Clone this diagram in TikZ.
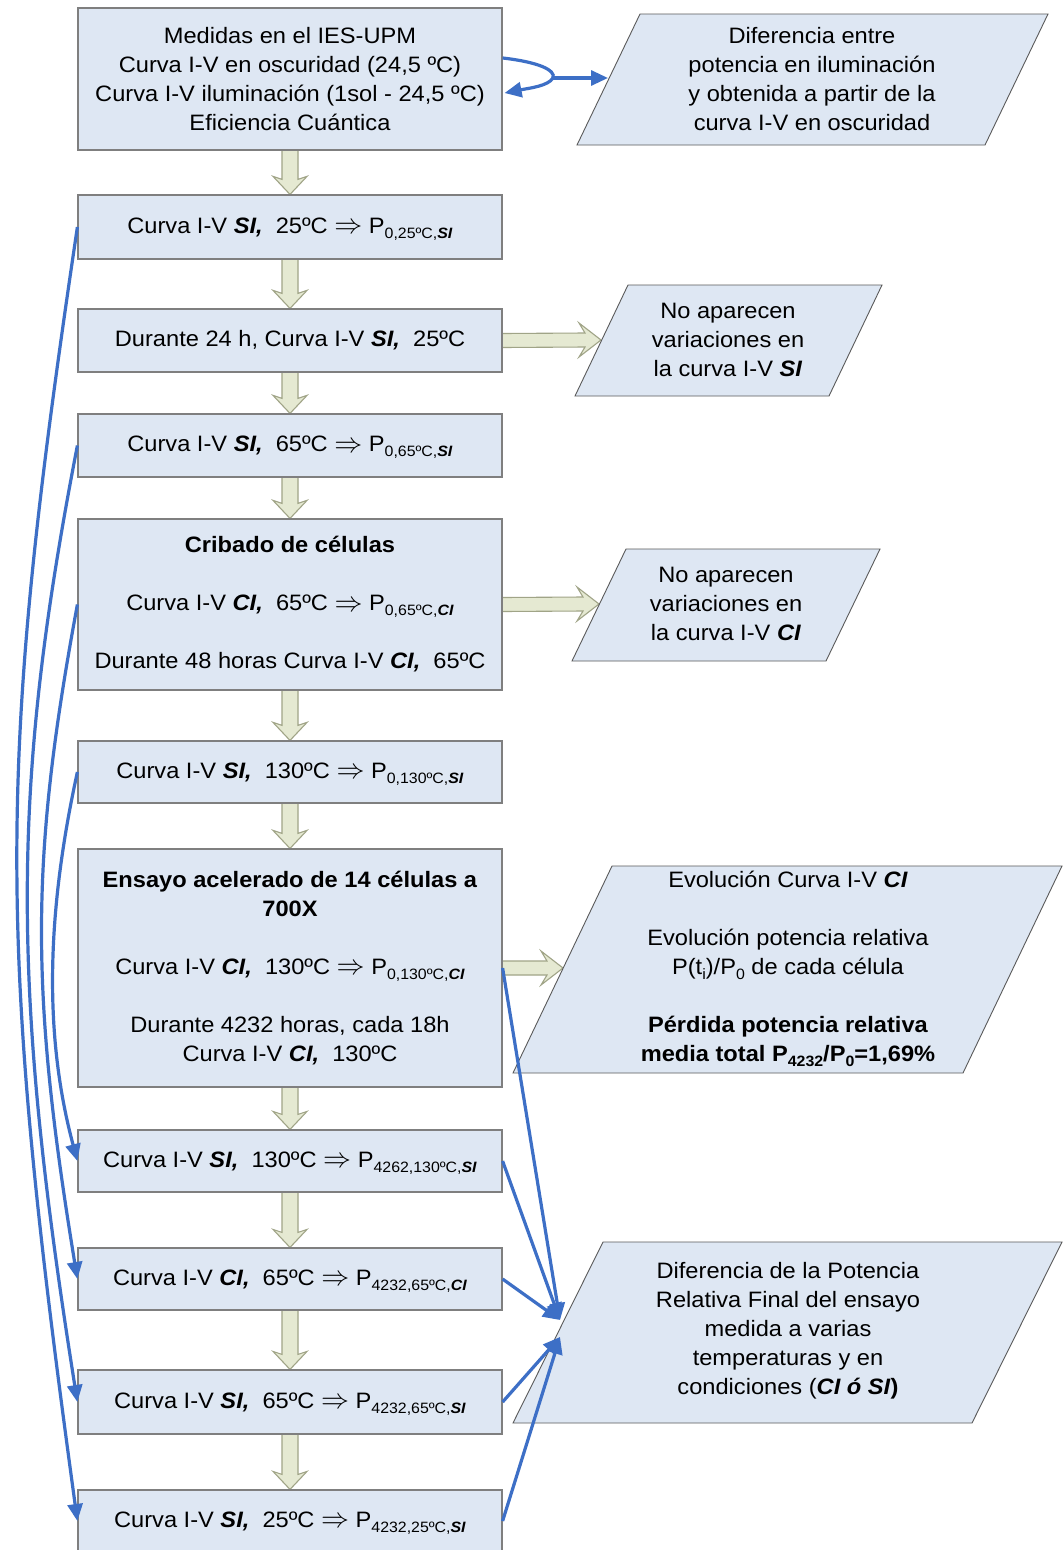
\documentclass[tikz,border=0pt]{standalone}
\usepackage{graphicx}
\usepackage{fontspec}
\setmainfont{Liberation Sans}[FakeStretch=1.06]
\usetikzlibrary{calc,arrows.meta}

\definecolor{boxfill}{HTML}{DEE7F3}
\definecolor{boxline}{HTML}{7F7F7F}
\definecolor{parline}{HTML}{5A5A5A}
\definecolor{blkfill}{HTML}{E5E9D2}
\definecolor{blkline}{HTML}{A0A487}
\definecolor{flowblue}{HTML}{3D6FC6}

\newcommand\bfit[1]{\textbf{\textit{#1}}}
\newcommand\psub[1]{\raisebox{-5pt}[0pt][0pt]{\fontsize{15}{15}\selectfont #1}}
\newcommand\yields{\ \raisebox{-0.5pt}{\scalebox{1.35}{$\Rightarrow$}}\ }

% hollow block arrow pointing down, from the bottom of #1 to the top of #2
\newcommand\blockdown[2]{%
  \draw[blockarrow] ($(#1.south)+(-8,0)$) -- ($(#2.north)+(-8,-15)$)
    -- ($(#2.north)+(-17,-18)$) -- (#2.north) -- ($(#2.north)+(17,-18)$)
    -- ($(#2.north)+(8,-15)$) -- ($(#1.south)+(8,0)$);}
% hollow block arrow pointing right, from the right side of #1 to point #2
\newcommand\blockright[2]{%
  \draw[blockarrow] ($(#1.east)+(0,-7)$) -- ($(#2)+(-16,-7)$)
    -- ($(#2)+(-22,-17)$) -- (#2) -- ($(#2)+(-22,17)$)
    -- ($(#2)+(-16,7)$) -- ($(#1.east)+(0,7)$);}

\pgfdeclarelayer{bg}
\pgfsetlayers{bg,main}

\begin{document}
\begin{tikzpicture}[x=1pt,y=-1pt,
  stepbox/.style={draw=boxline, fill=boxfill, line width=1.2pt,
    minimum width=424pt, inner sep=0pt, align=center,
    font=\fontsize{22.3}{29}\selectfont},
  para/.style={draw=parline, fill=boxfill, line width=0.9pt},
  ptext/.style={align=center, inner sep=0pt, font=\fontsize{22.3}{29}\selectfont},
  blockarrow/.style={draw=blkline, fill=blkfill, line width=1.1pt, line join=miter},
  bluearrow/.style={draw=flowblue, line width=3.2pt,
    -{Triangle[length=17pt,width=15pt]}},
  blueline/.style={draw=flowblue, line width=3.2pt}]

\useasboundingbox (0,0) rectangle (1063,1550);
\begin{pgfonlayer}{bg}
\fill[white] (0,0) rectangle (1063,1550);
\end{pgfonlayer}

% ---- main column of steps ----
\node[stepbox, minimum height=142pt] (b1) at (290,79)
  {Medidas en el IES-UPM\\Curva I-V en oscuridad (24,5 ºC)\\
   Curva I-V iluminación (1sol - 24,5 ºC)\\Eficiencia Cuántica};
\node[stepbox, minimum height=64pt] (b2) at (290,227)
  {Curva I-V \bfit{SI,}\ \ 25ºC\yields P\psub{0,25ºC,\bfit{SI}}};
\node[stepbox, minimum height=63pt] (b3) at (290,340.5)
  {Durante 24 h, Curva I-V \bfit{SI,}\ \ 25ºC};
\node[stepbox, minimum height=63pt] (b4) at (290,445.5)
  {Curva I-V \bfit{SI,}\ \ 65ºC\yields P\psub{0,65ºC,\bfit{SI}}};
\node[stepbox, minimum height=171pt] (b5) at (290,604.5)
  {\textbf{Cribado de células}\\~\\
   Curva I-V \bfit{CI,}\ \ 65ºC\yields P\psub{0,65ºC,\bfit{CI}}\\~\\
   Durante 48 horas Curva I-V \bfit{CI,}\ \ 65ºC};
\node[stepbox, minimum height=62pt] (b6) at (290,772)
  {Curva I-V \bfit{SI,}\ \ 130ºC\yields P\psub{0,130ºC,\bfit{SI}}};
\node[stepbox, minimum height=238pt] (b7) at (290,968)
  {\textbf{Ensayo acelerado de 14 células a}\\\textbf{700X}\\~\\
   Curva I-V \bfit{CI,}\ \ 130ºC\yields P\psub{0,130ºC,\bfit{CI}}\\~\\
   Durante 4232 horas, cada 18h\\Curva I-V \bfit{CI,}\ \ 130ºC};
\node[stepbox, minimum height=62pt] (b8) at (290,1161)
  {Curva I-V \bfit{SI,}\ \ 130ºC\yields P\psub{4262,130ºC,\bfit{SI}}};
\node[stepbox, minimum height=62pt] (b9) at (290,1279)
  {Curva I-V \bfit{CI,}\ \ 65ºC\yields P\psub{4232,65ºC,\bfit{CI}}};
\node[stepbox, minimum height=64pt] (b10) at (290,1402)
  {Curva I-V \bfit{SI,}\ \ 65ºC\yields P\psub{4232,65ºC,\bfit{SI}}};
\node[stepbox, minimum height=62pt] (b11) at (290,1521)
  {Curva I-V \bfit{SI,}\ \ 25ºC\yields P\psub{4232,25ºC,\bfit{SI}}};

% ---- result parallelograms ----
\draw[para] (640,14) -- (1048,14) -- (985,145) -- (577,145) -- cycle;
\node[ptext] (p1) at (812,79)
  {Diferencia entre\\potencia en iluminación\\y obtenida a partir de la\\curva I-V en oscuridad};
\draw[para] (628,285) -- (882,285) -- (829,396) -- (575,396) -- cycle;
\node[ptext] (p2) at (728,340)
  {No aparecen\\variaciones en\\la curva I-V \bfit{SI}};
\draw[para] (626,549) -- (880,549) -- (826,661) -- (572,661) -- cycle;
\node[ptext] (p3) at (726,604)
  {No aparecen\\variaciones en\\la curva I-V \bfit{CI}};
\draw[para] (612,866) -- (1062,866) -- (963,1073) -- (513,1073) -- cycle;
\node[ptext] (p4) at (788,968)
  {Evolución Curva I-V \bfit{CI}\\~\\Evolución potencia relativa\\
   P(t\psub{i})/P\psub{0} de cada célula\\~\\
   \textbf{Pérdida potencia relativa}\\
   \textbf{media total P\psub{4232}/P\psub{0}=1,69\%}};
\draw[para] (603,1242) -- (1062,1242) -- (972,1423) -- (513,1423) -- cycle;
\node[ptext] (p5) at (788,1331)
  {Diferencia de la Potencia\\Relativa Final del ensayo\\medida a varias\\
   temperaturas y en\\condiciones (\bfit{CI ó SI}\textbf{)}};

% entry points on the parallelogram edges
\coordinate (p1in) at (608,78);
\coordinate (p2in) at (601,340);
\coordinate (p3in) at (599,604);
\coordinate (p4in) at (563,968);
\coordinate (p5a) at (560,1320);
\coordinate (p5b) at (560,1337);
\coordinate (loop) at (553,78);

% ---- hollow block arrows ----
\begin{pgfonlayer}{bg}
\blockdown{b1}{b2}
\blockdown{b2}{b3}
\blockdown{b3}{b4}
\blockdown{b4}{b5}
\blockdown{b5}{b6}
\blockdown{b6}{b7}
\blockdown{b7}{b8}
\blockdown{b8}{b9}
\blockdown{b9}{b10}
\blockdown{b10}{b11}
\blockright{b3}{p2in}
\blockright{b5}{p3in}
\blockright{b7}{p4in}
\end{pgfonlayer}

% ---- blue links ----
\draw[blueline] ($(b1.east)+(0,-21)$) .. controls (538,62) and (556,70) .. (loop);
\draw[bluearrow] (loop) .. controls (548,86) and (530,88) .. ($(b1.east)+(2,14)$);
\draw[bluearrow] (loop) -- (p1in);

\draw[bluearrow] (b2.west) .. controls (-3,766) and (-3,935) .. (b11.west);
\draw[bluearrow] (b4.west) .. controls (11,788) and (11,984) .. (b10.west);
\draw[bluearrow] (b5.west) .. controls (30,860) and (30,990) .. (b9.west);
\draw[bluearrow] (b6.west) .. controls (45,920) and (45,1040) .. (b8.west);

\draw[bluearrow] (b7.east) -- (p5a);
\draw[bluearrow] (b8.east) -- (p5a);
\draw[bluearrow] (b9.east) -- (p5a);
\draw[bluearrow] (b10.east) -- (p5b);
\draw[bluearrow] (b11.east) -- (p5b);
\end{tikzpicture}
\end{document}
